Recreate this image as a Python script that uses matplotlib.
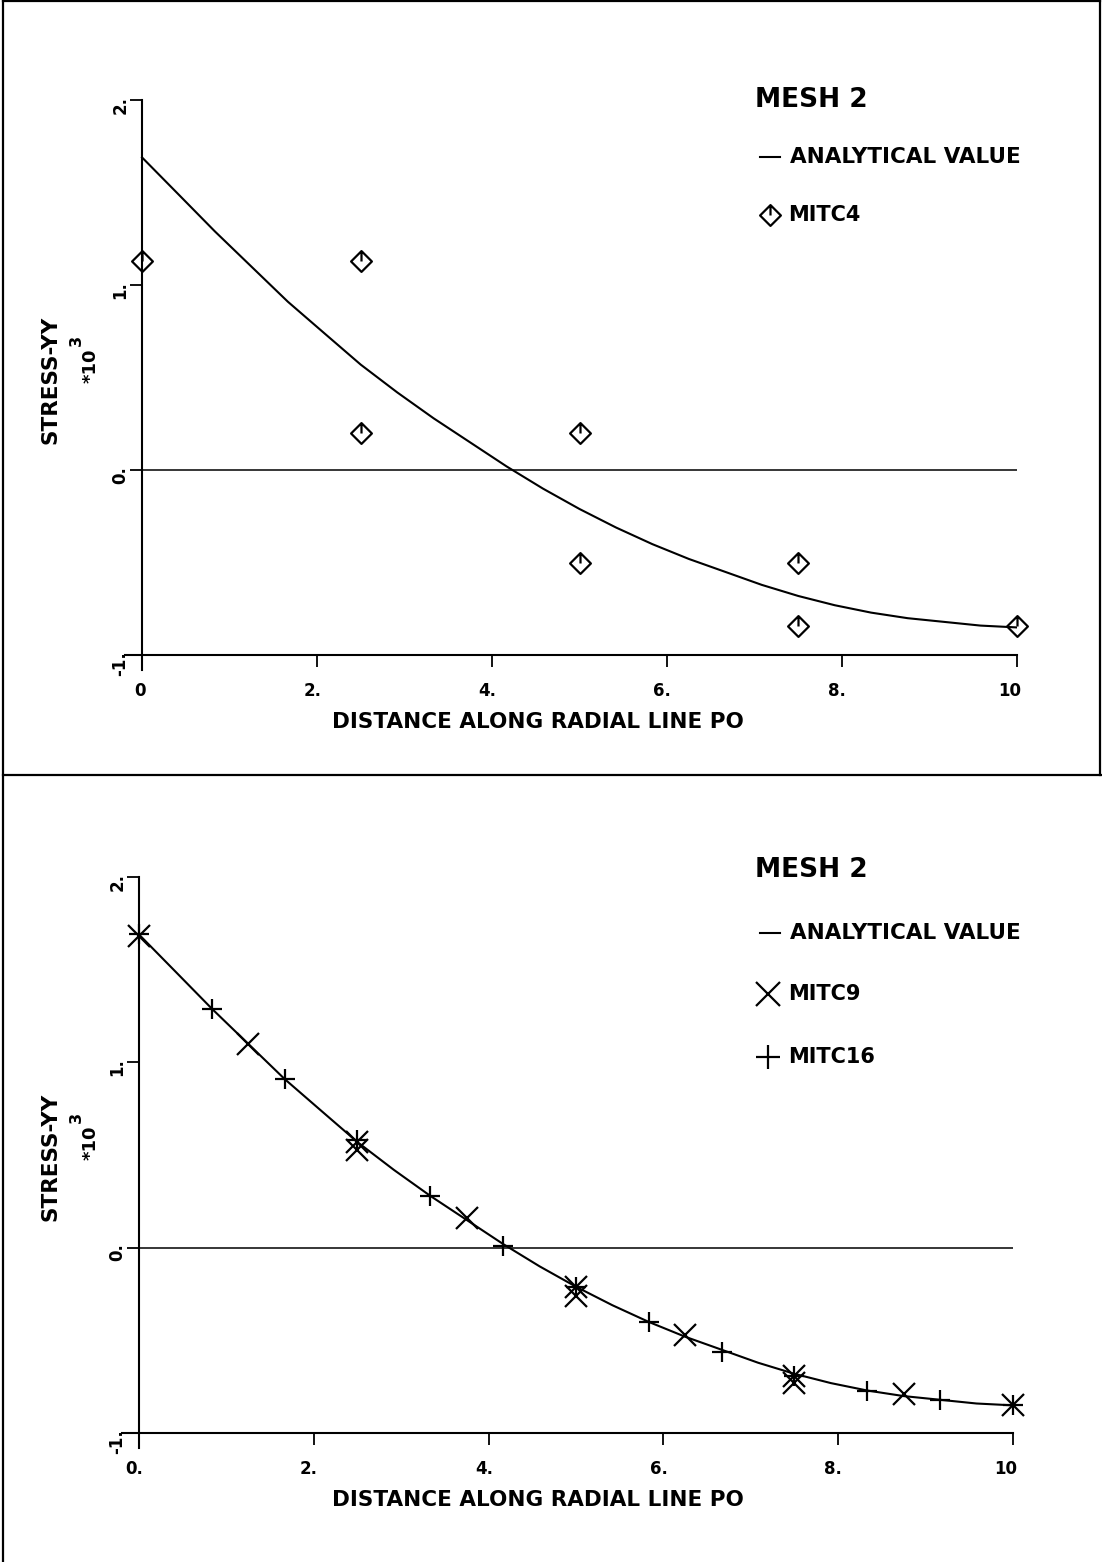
import matplotlib
matplotlib.use("Agg")
import matplotlib.pyplot as plt
from matplotlib.path import Path
from matplotlib.lines import Line2D


W, H = 1102, 1562  # output size in pixels

# analytical stress-yy along the radial line (x 10^3)
ana_x = [0.0, 0.417, 0.833, 1.25, 1.667, 2.083, 2.5, 2.917, 3.333, 3.75, 4.167, 4.583, 5.0,
         5.417, 5.833, 6.25, 6.667, 7.083, 7.5, 7.917, 8.333, 8.75, 9.167, 9.583, 10.0]
ana_y = [1.69, 1.49, 1.29, 1.10, 0.91, 0.74, 0.57, 0.42, 0.28, 0.15, 0.02, -0.10, -0.21,
         -0.31, -0.40, -0.48, -0.55, -0.62, -0.68, -0.73, -0.77, -0.80, -0.82, -0.84, -0.85]

# MITC4 element values (top plot)
mitc4_x = [0.0, 2.5, 2.5, 5.0, 5.0, 7.5, 7.5, 10.0]
mitc4_y = [1.13, 1.13, 0.20, 0.20, -0.50, -0.50, -0.84, -0.84]

# MITC9 and MITC16 values (bottom plot)
mitc9_x = [0.0, 1.25, 2.5, 2.5, 3.75, 5.0, 5.0, 6.25, 7.5, 7.5, 8.75, 10.0]
mitc9_y = [1.68, 1.10, 0.57, 0.53, 0.16, -0.21, -0.26, -0.47, -0.69, -0.73, -0.79, -0.85]
mitc16_x = [0.0, 0.833, 1.667, 2.5, 3.333, 4.167, 5.0, 5.833, 6.667, 7.5, 8.333, 9.167, 10.0]
mitc16_y = [1.69, 1.29, 0.91, 0.58, 0.28, 0.01, -0.21, -0.40, -0.56, -0.69, -0.77, -0.82, -0.85]

x_ticks = [0, 2, 4, 6, 8, 10]
x_labels_top = ["0", "2.", "4.", "6.", "8.", "10"]
x_labels_bot = ["0.", "2.", "4.", "6.", "8.", "10"]
y_ticks = [-1, 0, 1, 2]
y_labels = ["-1.", "0.", "1.", "2."]

plt.rcParams['font.family'] = ['DejaVu Sans']
plt.rcParams['font.weight'] = 'bold'


def fx(px):
    return px / W

def fy(py):
    return 1 - py / H


# open diamond with a short stroke from the top corner to the centre
diamond = Path([(0, 1), (1, 0), (0, -1), (-1, 0), (0, 1), (0, 1), (0, 0)],
               [Path.MOVETO, Path.LINETO, Path.LINETO, Path.LINETO, Path.CLOSEPOLY,
                Path.MOVETO, Path.LINETO])


def setup(ax, xlabels):
    ax.set_xlim(-0.2, 10)
    ax.set_ylim(-1.08, 2)
    ax.spines['top'].set_visible(False)
    ax.spines['right'].set_visible(False)
    ax.spines['left'].set_position(('data', 0))
    ax.spines['bottom'].set_position(('data', -1))
    ax.spines['left'].set_linewidth(1.5)
    ax.spines['bottom'].set_linewidth(1.5)
    ax.set_xticks(x_ticks)
    ax.set_xticklabels([])
    ax.set_yticks(y_ticks)
    ax.set_yticklabels([])
    ax.tick_params(direction='out', length=8.5, width=1.3)
    ax.patch.set_visible(False)
    for t, lbl in zip(x_ticks, xlabels):
        ax.annotate(lbl, xy=(t, -1), xytext=(3, -19), textcoords='offset points',
                    ha='right', va='top', fontsize=12, fontweight='bold')
    for t, lbl in zip(y_ticks, y_labels):
        ax.annotate(lbl, xy=(0, t), xytext=(-9, 3), textcoords='offset points',
                    rotation=90, rotation_mode='anchor', ha='right', va='bottom',
                    fontsize=12, fontweight='bold')
    ax.hlines(0, 0, 10, color='black', lw=1.1)
    ax.plot(ana_x, ana_y, color='black', lw=1.5)


def side_labels(yoff):
    fig.text(fx(50), fy(380 + yoff), "STRESS-YY", rotation=90, ha='center', va='center',
             fontsize=15.5, fontweight='bold')
    fig.text(fx(91), fy(366 + yoff), "*10", rotation=90, ha='center', va='center',
             fontsize=13, fontweight='bold')
    fig.text(fx(76), fy(340 + yoff), "3", rotation=90, ha='center', va='center',
             fontsize=11.5, fontweight='bold')


def key_mark(x, y, **kw):
    fig.add_artist(Line2D([fx(x)], [fy(y)], transform=fig.transFigure, color='black',
                          linestyle='none', **kw))


fig = plt.figure(figsize=(W / 100, H / 100), dpi=100)

# ---- top plot: MITC4
ax1 = fig.add_axes([fx(124.5), fy(670), (1017 - 124.5) / W, (670 - 100) / H])
setup(ax1, x_labels_top)
ax1.plot(mitc4_x, mitc4_y, linestyle='none', marker=diamond, markersize=15,
         markerfacecolor='none', markeredgecolor='black', markeredgewidth=1.6, clip_on=False)
fig.text(fx(538), fy(722), "DISTANCE ALONG RADIAL LINE PO", ha='center', va='center',
         fontsize=15.5, fontweight='bold')
side_labels(0)

fig.text(fx(755), fy(100), "MESH 2", ha='left', va='center', fontsize=19, fontweight='bold')
fig.add_artist(Line2D([fx(760), fx(780)], [fy(157), fy(157)], color='black', lw=1.5))
fig.text(fx(790), fy(157), "ANALYTICAL VALUE", ha='left', va='center', fontsize=15.5, fontweight='bold')
key_mark(770, 215, marker=diamond, markersize=15, markerfacecolor='none',
         markeredgecolor='black', markeredgewidth=1.6)
fig.text(fx(788), fy(215), "MITC4", ha='left', va='center', fontsize=15, fontweight='bold')

# ---- bottom plot: MITC9 / MITC16
ax2 = fig.add_axes([fx(121.5), fy(1448), (1013 - 121.5) / W, (1448 - 877) / H])
setup(ax2, x_labels_bot)
ax2.plot(mitc9_x, mitc9_y, linestyle='none', marker='x', markersize=16,
         color='black', markeredgewidth=1.6, clip_on=False)
ax2.plot(mitc16_x, mitc16_y, linestyle='none', marker='+', markersize=15,
         color='black', markeredgewidth=1.6, clip_on=False)
fig.text(fx(538), fy(1500), "DISTANCE ALONG RADIAL LINE PO", ha='center', va='center',
         fontsize=15.5, fontweight='bold')
side_labels(777)

fig.text(fx(755), fy(870), "MESH 2", ha='left', va='center', fontsize=19, fontweight='bold')
fig.add_artist(Line2D([fx(760), fx(780)], [fy(933), fy(933)], color='black', lw=1.5))
fig.text(fx(790), fy(933), "ANALYTICAL VALUE", ha='left', va='center', fontsize=15.5, fontweight='bold')
key_mark(768, 994, marker='x', markersize=17, markeredgewidth=1.6)
fig.text(fx(788), fy(994), "MITC9", ha='left', va='center', fontsize=15, fontweight='bold')
key_mark(768, 1057, marker='+', markersize=17, markeredgewidth=1.6)
fig.text(fx(788), fy(1057), "MITC16", ha='left', va='center', fontsize=15, fontweight='bold')

# page frame lines
frame = dict(color='black', lw=1.6)
fig.add_artist(Line2D([fx(3), fx(3)], [fy(0), fy(H)], **frame))
fig.add_artist(Line2D([fx(3), fx(1100)], [fy(1), fy(1)], **frame))
fig.add_artist(Line2D([fx(1100), fx(1100)], [fy(0), fy(775)], **frame))
fig.add_artist(Line2D([fx(3), fx(W)], [fy(775), fy(775)], **frame))

fig.savefig("out.png", dpi=100)
